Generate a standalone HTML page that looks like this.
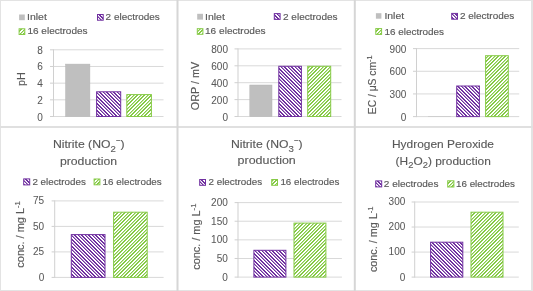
<!DOCTYPE html>
<html><head><meta charset="utf-8"><style>
html,body{margin:0;padding:0;background:#fff;overflow:hidden}
svg{display:block;will-change:transform}
text{font-family:"Liberation Sans", sans-serif;fill:#595959;stroke:#595959;stroke-width:0.15px} text.t{stroke-width:0.12px} text.l{stroke-width:0.05px}
</style></head><body>
<svg width="533" height="291" viewBox="0 0 533 291">
<defs><pattern id="hp" patternUnits="userSpaceOnUse" width="7" height="7"><rect width="7" height="7" fill="#fff"/><rect x="0" y="0" width="1" height="1" fill="#7030a0"/><rect x="1" y="0" width="1" height="1" fill="#7030a0"/><rect x="4" y="0" width="1" height="1" fill="#7030a0"/><rect x="5" y="0" width="1" height="1" fill="#7030a0" fill-opacity="0.5"/><rect x="1" y="1" width="1" height="1" fill="#7030a0"/><rect x="2" y="1" width="1" height="1" fill="#7030a0"/><rect x="5" y="1" width="1" height="1" fill="#7030a0"/><rect x="6" y="1" width="1" height="1" fill="#7030a0" fill-opacity="0.5"/><rect x="0" y="2" width="1" height="1" fill="#7030a0" fill-opacity="0.5"/><rect x="2" y="2" width="1" height="1" fill="#7030a0"/><rect x="3" y="2" width="1" height="1" fill="#7030a0"/><rect x="6" y="2" width="1" height="1" fill="#7030a0"/><rect x="0" y="3" width="1" height="1" fill="#7030a0"/><rect x="1" y="3" width="1" height="1" fill="#7030a0" fill-opacity="0.5"/><rect x="3" y="3" width="1" height="1" fill="#7030a0"/><rect x="4" y="3" width="1" height="1" fill="#7030a0"/><rect x="1" y="4" width="1" height="1" fill="#7030a0"/><rect x="2" y="4" width="1" height="1" fill="#7030a0" fill-opacity="0.5"/><rect x="4" y="4" width="1" height="1" fill="#7030a0"/><rect x="5" y="4" width="1" height="1" fill="#7030a0"/><rect x="2" y="5" width="1" height="1" fill="#7030a0"/><rect x="3" y="5" width="1" height="1" fill="#7030a0" fill-opacity="0.5"/><rect x="5" y="5" width="1" height="1" fill="#7030a0"/><rect x="6" y="5" width="1" height="1" fill="#7030a0"/><rect x="0" y="6" width="1" height="1" fill="#7030a0"/><rect x="3" y="6" width="1" height="1" fill="#7030a0"/><rect x="4" y="6" width="1" height="1" fill="#7030a0" fill-opacity="0.5"/><rect x="6" y="6" width="1" height="1" fill="#7030a0"/></pattern><pattern id="hg" patternUnits="userSpaceOnUse" width="7" height="7"><rect width="7" height="7" fill="#fff"/><rect x="0" y="0" width="1" height="1" fill="#86ca46"/><rect x="1" y="0" width="1" height="1" fill="#86ca46"/><rect x="4" y="0" width="1" height="1" fill="#86ca46"/><rect x="5" y="0" width="1" height="1" fill="#86ca46" fill-opacity="0.5"/><rect x="0" y="1" width="1" height="1" fill="#86ca46"/><rect x="3" y="1" width="1" height="1" fill="#86ca46"/><rect x="4" y="1" width="1" height="1" fill="#86ca46" fill-opacity="0.5"/><rect x="6" y="1" width="1" height="1" fill="#86ca46"/><rect x="2" y="2" width="1" height="1" fill="#86ca46"/><rect x="3" y="2" width="1" height="1" fill="#86ca46" fill-opacity="0.5"/><rect x="5" y="2" width="1" height="1" fill="#86ca46"/><rect x="6" y="2" width="1" height="1" fill="#86ca46"/><rect x="1" y="3" width="1" height="1" fill="#86ca46"/><rect x="2" y="3" width="1" height="1" fill="#86ca46" fill-opacity="0.5"/><rect x="4" y="3" width="1" height="1" fill="#86ca46"/><rect x="5" y="3" width="1" height="1" fill="#86ca46"/><rect x="0" y="4" width="1" height="1" fill="#86ca46"/><rect x="1" y="4" width="1" height="1" fill="#86ca46" fill-opacity="0.5"/><rect x="3" y="4" width="1" height="1" fill="#86ca46"/><rect x="4" y="4" width="1" height="1" fill="#86ca46"/><rect x="0" y="5" width="1" height="1" fill="#86ca46" fill-opacity="0.5"/><rect x="2" y="5" width="1" height="1" fill="#86ca46"/><rect x="3" y="5" width="1" height="1" fill="#86ca46"/><rect x="6" y="5" width="1" height="1" fill="#86ca46"/><rect x="1" y="6" width="1" height="1" fill="#86ca46"/><rect x="2" y="6" width="1" height="1" fill="#86ca46"/><rect x="5" y="6" width="1" height="1" fill="#86ca46"/><rect x="6" y="6" width="1" height="1" fill="#86ca46" fill-opacity="0.5"/></pattern></defs>
<rect width="533" height="291" fill="#fff"/>
<rect x="0.00" y="0.00" width="533.00" height="1.00" fill="#e3e3e3" />
<rect x="0.00" y="0.00" width="1.00" height="291.00" fill="#e3e3e3" />
<rect x="531.00" y="0.00" width="2.00" height="291.00" fill="#e3e3e3" />
<rect x="0.00" y="290.00" width="533.00" height="1.00" fill="#e3e3e3" />
<rect x="0.00" y="126.00" width="533.00" height="2.00" fill="#e0e0e0" />
<rect x="176.50" y="0.00" width="2.00" height="291.00" fill="#d6d6d6" />
<rect x="353.80" y="0.00" width="2.00" height="291.00" fill="#d6d6d6" />
<rect x="19.10" y="14.50" width="5.70" height="5.70" fill="#bfbfbf" />
<rect x="97.50" y="14.50" width="5.70" height="5.70" fill="url(#hp)" stroke="#7030a0" stroke-width="1"/>
<rect x="19.10" y="28.80" width="5.70" height="5.70" fill="url(#hg)" stroke="#86ca46" stroke-width="1"/>
<rect x="53.50" y="116.00" width="110.00" height="1.00" fill="#d9d9d9" />
<rect x="50.00" y="116.00" width="3.50" height="1.00" fill="#d0d0d0" />
<text x="42.80" y="120.50" font-size="10" text-anchor="end" class="l">0</text>
<rect x="53.50" y="99.33" width="110.00" height="1.00" fill="#d9d9d9" />
<rect x="50.00" y="99.33" width="3.50" height="1.00" fill="#d0d0d0" />
<text x="42.80" y="103.83" font-size="10" text-anchor="end" class="l">2</text>
<rect x="53.50" y="82.65" width="110.00" height="1.00" fill="#d9d9d9" />
<rect x="50.00" y="82.65" width="3.50" height="1.00" fill="#d0d0d0" />
<text x="42.80" y="87.15" font-size="10" text-anchor="end" class="l">4</text>
<rect x="53.50" y="65.97" width="110.00" height="1.00" fill="#d9d9d9" />
<rect x="50.00" y="65.97" width="3.50" height="1.00" fill="#d0d0d0" />
<text x="42.80" y="70.47" font-size="10" text-anchor="end" class="l">6</text>
<rect x="53.50" y="49.30" width="110.00" height="1.00" fill="#d9d9d9" />
<rect x="50.00" y="49.30" width="3.50" height="1.00" fill="#d0d0d0" />
<text x="42.80" y="53.80" font-size="10" text-anchor="end" class="l">8</text>
<rect x="53.00" y="49.30" width="1.00" height="67.70" fill="#d0d0d0" />
<rect x="65.60" y="64.10" width="24.30" height="52.40" fill="#bfbfbf" stroke="#b4b4b4" stroke-width="0.5"/>
<rect x="96.60" y="91.80" width="24.10" height="24.70" fill="url(#hp)" stroke="#7030a0" stroke-width="1"/>
<rect x="126.80" y="94.60" width="24.60" height="21.90" fill="url(#hg)" stroke="#86ca46" stroke-width="1"/>
<rect x="197.20" y="13.80" width="5.80" height="5.80" fill="#bfbfbf" />
<rect x="274.30" y="13.60" width="5.80" height="5.80" fill="url(#hp)" stroke="#7030a0" stroke-width="1"/>
<rect x="197.30" y="28.70" width="5.60" height="5.60" fill="url(#hg)" stroke="#86ca46" stroke-width="1"/>
<rect x="238.00" y="116.00" width="103.50" height="1.00" fill="#d9d9d9" />
<rect x="234.50" y="116.00" width="3.50" height="1.00" fill="#d0d0d0" />
<text x="228.00" y="120.50" font-size="10" text-anchor="end" class="l">0</text>
<rect x="238.00" y="99.10" width="103.50" height="1.00" fill="#d9d9d9" />
<rect x="234.50" y="99.10" width="3.50" height="1.00" fill="#d0d0d0" />
<text x="228.00" y="103.60" font-size="10" text-anchor="end" class="l">200</text>
<rect x="238.00" y="82.20" width="103.50" height="1.00" fill="#d9d9d9" />
<rect x="234.50" y="82.20" width="3.50" height="1.00" fill="#d0d0d0" />
<text x="228.00" y="86.70" font-size="10" text-anchor="end" class="l">400</text>
<rect x="238.00" y="65.30" width="103.50" height="1.00" fill="#d9d9d9" />
<rect x="234.50" y="65.30" width="3.50" height="1.00" fill="#d0d0d0" />
<text x="228.00" y="69.80" font-size="10" text-anchor="end" class="l">600</text>
<rect x="238.00" y="48.40" width="103.50" height="1.00" fill="#d9d9d9" />
<rect x="234.50" y="48.40" width="3.50" height="1.00" fill="#d0d0d0" />
<text x="228.00" y="52.90" font-size="10" text-anchor="end" class="l">800</text>
<rect x="237.50" y="48.40" width="1.00" height="68.60" fill="#d0d0d0" />
<rect x="249.80" y="85.00" width="22.20" height="31.50" fill="#bfbfbf" stroke="#b4b4b4" stroke-width="0.5"/>
<rect x="278.80" y="66.30" width="22.60" height="50.20" fill="url(#hp)" stroke="#7030a0" stroke-width="1"/>
<rect x="307.70" y="66.30" width="23.00" height="50.20" fill="url(#hg)" stroke="#86ca46" stroke-width="1"/>
<rect x="375.90" y="13.20" width="5.50" height="5.50" fill="#bfbfbf" />
<rect x="451.70" y="13.40" width="5.80" height="5.80" fill="url(#hp)" stroke="#7030a0" stroke-width="1"/>
<rect x="375.80" y="28.60" width="5.80" height="5.80" fill="url(#hg)" stroke="#86ca46" stroke-width="1"/>
<rect x="416.50" y="116.10" width="102.70" height="1.00" fill="#d9d9d9" />
<rect x="413.00" y="116.10" width="3.50" height="1.00" fill="#d0d0d0" />
<text x="406.30" y="120.60" font-size="10" text-anchor="end" class="l">0</text>
<rect x="416.50" y="93.43" width="102.70" height="1.00" fill="#d9d9d9" />
<rect x="413.00" y="93.43" width="3.50" height="1.00" fill="#d0d0d0" />
<text x="406.30" y="97.93" font-size="10" text-anchor="end" class="l">300</text>
<rect x="416.50" y="70.77" width="102.70" height="1.00" fill="#d9d9d9" />
<rect x="413.00" y="70.77" width="3.50" height="1.00" fill="#d0d0d0" />
<text x="406.30" y="75.27" font-size="10" text-anchor="end" class="l">600</text>
<rect x="416.50" y="48.10" width="102.70" height="1.00" fill="#d9d9d9" />
<rect x="413.00" y="48.10" width="3.50" height="1.00" fill="#d0d0d0" />
<text x="406.30" y="52.60" font-size="10" text-anchor="end" class="l">900</text>
<rect x="416.00" y="48.10" width="1.00" height="69.00" fill="#d0d0d0" />
<rect x="428.00" y="116.00" width="23.00" height="1.00" fill="#cfcfcf" />
<rect x="456.70" y="86.00" width="22.70" height="30.60" fill="url(#hp)" stroke="#7030a0" stroke-width="1"/>
<rect x="485.60" y="55.70" width="22.70" height="60.90" fill="url(#hg)" stroke="#86ca46" stroke-width="1"/>
<rect x="23.70" y="178.90" width="6.00" height="6.00" fill="url(#hp)" stroke="#7030a0" stroke-width="1"/>
<rect x="94.10" y="179.00" width="5.80" height="5.80" fill="url(#hg)" stroke="#86ca46" stroke-width="1"/>
<rect x="54.70" y="276.90" width="108.90" height="1.00" fill="#d9d9d9" />
<rect x="51.60" y="276.90" width="3.10" height="1.00" fill="#d0d0d0" />
<text x="44.20" y="280.80" font-size="10" text-anchor="end" class="l">0</text>
<rect x="54.70" y="251.40" width="108.90" height="1.00" fill="#d9d9d9" />
<rect x="51.60" y="251.40" width="3.10" height="1.00" fill="#d0d0d0" />
<text x="44.20" y="255.30" font-size="10" text-anchor="end" class="l">25</text>
<rect x="54.70" y="225.90" width="108.90" height="1.00" fill="#d9d9d9" />
<rect x="51.60" y="225.90" width="3.10" height="1.00" fill="#d0d0d0" />
<text x="44.20" y="229.80" font-size="10" text-anchor="end" class="l">50</text>
<rect x="54.70" y="200.40" width="108.90" height="1.00" fill="#d9d9d9" />
<rect x="51.60" y="200.40" width="3.10" height="1.00" fill="#d0d0d0" />
<text x="44.20" y="204.30" font-size="10" text-anchor="end" class="l">75</text>
<rect x="54.20" y="200.40" width="1.00" height="77.50" fill="#d0d0d0" />
<rect x="71.30" y="234.60" width="33.70" height="42.80" fill="url(#hp)" stroke="#7030a0" stroke-width="1"/>
<rect x="113.60" y="212.20" width="33.60" height="65.20" fill="url(#hg)" stroke="#86ca46" stroke-width="1"/>
<rect x="199.70" y="179.50" width="5.80" height="5.80" fill="url(#hp)" stroke="#7030a0" stroke-width="1"/>
<rect x="271.70" y="179.50" width="5.80" height="5.80" fill="url(#hg)" stroke="#86ca46" stroke-width="1"/>
<rect x="238.00" y="276.60" width="103.90" height="1.00" fill="#d9d9d9" />
<rect x="234.60" y="276.60" width="3.40" height="1.00" fill="#d0d0d0" />
<text x="227.80" y="280.50" font-size="10" text-anchor="end" class="l">0</text>
<rect x="238.00" y="257.98" width="103.90" height="1.00" fill="#d9d9d9" />
<rect x="234.60" y="257.98" width="3.40" height="1.00" fill="#d0d0d0" />
<text x="227.80" y="261.88" font-size="10" text-anchor="end" class="l">50</text>
<rect x="238.00" y="239.35" width="103.90" height="1.00" fill="#d9d9d9" />
<rect x="234.60" y="239.35" width="3.40" height="1.00" fill="#d0d0d0" />
<text x="227.80" y="243.25" font-size="10" text-anchor="end" class="l">100</text>
<rect x="238.00" y="220.72" width="103.90" height="1.00" fill="#d9d9d9" />
<rect x="234.60" y="220.72" width="3.40" height="1.00" fill="#d0d0d0" />
<text x="227.80" y="224.62" font-size="10" text-anchor="end" class="l">150</text>
<rect x="238.00" y="202.10" width="103.90" height="1.00" fill="#d9d9d9" />
<rect x="234.60" y="202.10" width="3.40" height="1.00" fill="#d0d0d0" />
<text x="227.80" y="206.00" font-size="10" text-anchor="end" class="l">200</text>
<rect x="237.50" y="202.10" width="1.00" height="75.50" fill="#d0d0d0" />
<rect x="253.90" y="250.30" width="32.00" height="26.80" fill="url(#hp)" stroke="#7030a0" stroke-width="1"/>
<rect x="294.00" y="223.10" width="31.90" height="54.00" fill="url(#hg)" stroke="#86ca46" stroke-width="1"/>
<rect x="375.70" y="180.90" width="6.00" height="6.00" fill="url(#hp)" stroke="#7030a0" stroke-width="1"/>
<rect x="447.70" y="180.80" width="6.20" height="6.20" fill="url(#hg)" stroke="#86ca46" stroke-width="1"/>
<rect x="414.70" y="276.60" width="104.10" height="1.00" fill="#d9d9d9" />
<rect x="411.60" y="276.60" width="3.10" height="1.00" fill="#d0d0d0" />
<text x="405.30" y="280.50" font-size="10" text-anchor="end" class="l">0</text>
<rect x="414.70" y="251.57" width="104.10" height="1.00" fill="#d9d9d9" />
<rect x="411.60" y="251.57" width="3.10" height="1.00" fill="#d0d0d0" />
<text x="405.30" y="255.47" font-size="10" text-anchor="end" class="l">100</text>
<rect x="414.70" y="226.53" width="104.10" height="1.00" fill="#d9d9d9" />
<rect x="411.60" y="226.53" width="3.10" height="1.00" fill="#d0d0d0" />
<text x="405.30" y="230.43" font-size="10" text-anchor="end" class="l">200</text>
<rect x="414.70" y="201.50" width="104.10" height="1.00" fill="#d9d9d9" />
<rect x="411.60" y="201.50" width="3.10" height="1.00" fill="#d0d0d0" />
<text x="405.30" y="205.40" font-size="10" text-anchor="end" class="l">300</text>
<rect x="414.20" y="201.50" width="1.00" height="76.10" fill="#d0d0d0" />
<rect x="430.60" y="242.20" width="32.20" height="34.90" fill="url(#hp)" stroke="#7030a0" stroke-width="1"/>
<rect x="471.00" y="212.20" width="32.00" height="64.90" fill="url(#hg)" stroke="#86ca46" stroke-width="1"/>
<text x="27.00" y="20.20" font-size="9.8" textLength="19.80" lengthAdjust="spacingAndGlyphs">Inlet</text>
<text x="105.60" y="20.20" font-size="9.8" textLength="54.20" lengthAdjust="spacingAndGlyphs">2 electrodes</text>
<text x="27.40" y="34.30" font-size="9.8" textLength="60.20" lengthAdjust="spacingAndGlyphs">16 electrodes</text>
<text x="205.00" y="19.60" font-size="9.8" textLength="19.80" lengthAdjust="spacingAndGlyphs">Inlet</text>
<text x="283.00" y="19.60" font-size="9.8" textLength="54.60" lengthAdjust="spacingAndGlyphs">2 electrodes</text>
<text x="205.00" y="34.40" font-size="9.8" textLength="60.60" lengthAdjust="spacingAndGlyphs">16 electrodes</text>
<text x="384.40" y="18.80" font-size="9.8" textLength="19.80" lengthAdjust="spacingAndGlyphs">Inlet</text>
<text x="459.90" y="18.80" font-size="9.8" textLength="54.40" lengthAdjust="spacingAndGlyphs">2 electrodes</text>
<text x="384.40" y="34.50" font-size="9.8" textLength="59.60" lengthAdjust="spacingAndGlyphs">16 electrodes</text>
<text x="52.90" y="148.30" font-size="10.8" textLength="71.60" lengthAdjust="spacingAndGlyphs" class="t">Nitrite (NO<tspan font-size="8.5" dy="3.6">2</tspan><tspan font-size="7" dy="-8.8">−</tspan><tspan dy="5.2">)</tspan></text>
<text x="59.90" y="164.60" font-size="10.8" textLength="57.20" lengthAdjust="spacingAndGlyphs" class="t">production</text>
<text x="32.40" y="184.80" font-size="9.8" textLength="53.40" lengthAdjust="spacingAndGlyphs">2 electrodes</text>
<text x="102.60" y="184.80" font-size="9.8" textLength="59.20" lengthAdjust="spacingAndGlyphs">16 electrodes</text>
<text x="230.90" y="148.00" font-size="10.8" textLength="71.60" lengthAdjust="spacingAndGlyphs" class="t">Nitrite (NO<tspan font-size="8.5" dy="3.6">3</tspan><tspan font-size="7" dy="-8.8">−</tspan><tspan dy="5.2">)</tspan></text>
<text x="237.60" y="164.00" font-size="10.8" textLength="58.20" lengthAdjust="spacingAndGlyphs" class="t">production</text>
<text x="208.50" y="185.40" font-size="9.8" textLength="53.60" lengthAdjust="spacingAndGlyphs">2 electrodes</text>
<text x="280.40" y="185.40" font-size="9.8" textLength="59.00" lengthAdjust="spacingAndGlyphs">16 electrodes</text>
<text x="392.00" y="148.10" font-size="10.8" textLength="102.00" lengthAdjust="spacingAndGlyphs" class="t">Hydrogen Peroxide</text>
<text x="395.60" y="164.50" font-size="10.8" textLength="95.20" lengthAdjust="spacingAndGlyphs" class="t">(H<tspan font-size="8.5" dy="3.6">2</tspan><tspan dy="-3.6">O</tspan><tspan font-size="8.5" dy="3.6">2</tspan><tspan dy="-3.6">) production</tspan></text>
<text x="383.80" y="186.80" font-size="9.8" textLength="54.60" lengthAdjust="spacingAndGlyphs">2 electrodes</text>
<text x="456.00" y="186.80" font-size="9.8" textLength="59.00" lengthAdjust="spacingAndGlyphs">16 electrodes</text>
<text transform="translate(24.50,0) rotate(-90)" x="-85.90" y="0" font-size="10" textLength="13.80" lengthAdjust="spacingAndGlyphs">pH</text>
<text transform="translate(199.10,0) rotate(-90)" x="-110.20" y="0" font-size="10" textLength="48.40" lengthAdjust="spacingAndGlyphs">ORP / mV</text>
<text transform="translate(376.40,0) rotate(-90)" x="-114.20" y="0" font-size="10" textLength="58.60" lengthAdjust="spacingAndGlyphs">EC / μS cm<tspan font-size="7" dy="-4">-1</tspan></text>
<text transform="translate(23.80,0) rotate(-90)" x="-267.70" y="0" font-size="10" textLength="66.60" lengthAdjust="spacingAndGlyphs">conc. / mg L<tspan font-size="7" dy="-4">-1</tspan></text>
<text transform="translate(199.80,0) rotate(-90)" x="-269.80" y="0" font-size="10" textLength="66.20" lengthAdjust="spacingAndGlyphs">conc. / mg L<tspan font-size="7" dy="-4">-1</tspan></text>
<text transform="translate(376.80,0) rotate(-90)" x="-272.10" y="0" font-size="10" textLength="65.60" lengthAdjust="spacingAndGlyphs">conc. / mg L<tspan font-size="7" dy="-4">-1</tspan></text>
</svg>
</body></html>
